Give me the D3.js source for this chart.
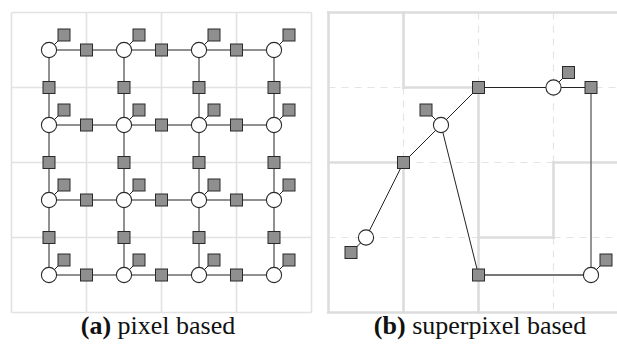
<!DOCTYPE html>
<html><head><meta charset="utf-8">
<script src="https://cdn.jsdelivr.net/npm/d3@7"></script>
<style>html,body{margin:0;padding:0;background:#fff;}svg{display:block;}</style>
</head><body>
<script>
// ---- data (grid units) ----
const gridCells = 4;                       // panel (a): 4 x 4 pixel grid
const captionA = ["(a)", " pixel based"];
const captionB = ["(b)", " superpixel based"];
// panel (b) superpixel boundaries: [x1,y1,x2,y2]
const solidBounds = [[1,0,1,1],[1,1,2,1],[2,1,2,4],[0,2,1,2],[1,2,1,4],[3,2,4,2],[3,2,3,3],[2,3,3,3]];
const dashedBounds = [[0,1,1,1],[2,1,4,1],[1,1,1,2],[1,2,3,2],[0,3,2,3],[3,3,4,3],[3,0,3,2],[3,3,3,4],[2,0,2,1]];
const frameB = [[0,0,0,4],[0,0,4,0],[0,4,4,4]];
// panel (b) nodes
const spNodes = [{id:"c1",x:1.5,y:1.5,d:"nw"},{id:"c2",x:3,y:1,d:"ne"},{id:"c3",x:3.5,y:3.5,d:"ne"},{id:"c4",x:0.5,y:3,d:"sw"}];
const edgeNodes = [{id:"s1",x:1,y:2},{id:"s2",x:2,y:1},{id:"s3",x:3.5,y:1},{id:"s4",x:2,y:3.5}];
const spLinks = [["c4","s1","n"],["s1","c1","n"],["c1","s2","n"],["s2","c2","n"],["c2","s3","n"],["s3","c3","g"],["c3","s4","m"],["s4","c1","n"]];

const W=617,H=348;
const svg=d3.select("body").append("svg").attr("width",W).attr("height",H);
const SQ=12, R=7.6, OFF=15;
const sqFill="#8f8f8f", sqStroke="#2a2a2a", lnCol="#222";
const dirs={ne:[1,-1],nw:[-1,-1],se:[1,1],sw:[-1,1]};

function square(g,x,y){
  g.append("rect").attr("x",x-SQ/2).attr("y",y-SQ/2).attr("width",SQ).attr("height",SQ)
   .attr("fill",sqFill).attr("stroke",sqStroke).attr("stroke-width",1);
}
function circle(g,x,y){
  g.append("circle").attr("cx",x).attr("cy",y).attr("r",R).attr("fill","#fff").attr("stroke","#2a2a2a").attr("stroke-width",1.1);
}
function diag(g,x,y,d){
  const v=dirs[d];
  g.append("line").attr("x1",x).attr("y1",y).attr("x2",x+v[0]*OFF).attr("y2",y+v[1]*OFF).attr("stroke",lnCol).attr("stroke-width",1);
  square(g,x+v[0]*OFF,y+v[1]*OFF);
}

// ---- panel (a) ----
const xA=d3.scaleLinear().domain([0,gridCells]).range([11.5,311.5]);
const yA=d3.scaleLinear().domain([0,gridCells]).range([12.5,312.5]);
const gA=svg.append("g");
const idx=d3.range(gridCells+1);
gA.selectAll(".v").data(idx).join("line").attr("x1",d=>xA(d)).attr("x2",d=>xA(d)).attr("y1",yA(0)).attr("y2",yA(gridCells)).attr("stroke","#e2e2e2").attr("stroke-width",1.6);
gA.selectAll(".h").data(idx).join("line").attr("y1",d=>yA(d)).attr("y2",d=>yA(d)).attr("x1",xA(0)).attr("x2",xA(gridCells)).attr("stroke","#e2e2e2").attr("stroke-width",1.6);
const cells=d3.range(gridCells);
cells.forEach(j=>{
  gA.append("line").attr("x1",xA(0.5)).attr("x2",xA(gridCells-0.5)).attr("y1",yA(j+0.5)).attr("y2",yA(j+0.5)).attr("stroke",lnCol).attr("stroke-width",1);
  gA.append("line").attr("y1",yA(0.5)).attr("y2",yA(gridCells-0.5)).attr("x1",xA(j+0.5)).attr("x2",xA(j+0.5)).attr("stroke",lnCol).attr("stroke-width",1);
});
cells.forEach(i=>cells.forEach(j=>{
  if(i<gridCells-1) square(gA,xA(i+1),yA(j+0.5));
  if(j<gridCells-1) square(gA,xA(i+0.5),yA(j+1));
}));
cells.forEach(i=>cells.forEach(j=>{
  const x=xA(i+0.5),y=yA(j+0.5);
  diag(gA,x,y,"ne");
  circle(gA,x,y);
}));

// ---- panel (b) ----
const xB=d3.scaleLinear().domain([0,4]).range([328.5,628.5]);
const yB=d3.scaleLinear().domain([0,4]).range([12.5,312.5]);
const gB=svg.append("g");
gB.selectAll(".d").data(dashedBounds).join("line")
  .attr("x1",d=>xB(d[0])).attr("y1",d=>yB(d[1])).attr("x2",d=>xB(d[2])).attr("y2",d=>yB(d[3]))
  .attr("stroke","#e4e4e4").attr("stroke-width",1.2).attr("stroke-dasharray","7,6");
gB.selectAll(".s").data(solidBounds.concat(frameB)).join("line")
  .attr("x1",d=>xB(d[0])).attr("y1",d=>yB(d[1])).attr("x2",d=>xB(d[2])).attr("y2",d=>yB(d[3]))
  .attr("stroke","#dcdcdc").attr("stroke-width",2.6).attr("stroke-linecap","square");
const all={};
spNodes.forEach(n=>all[n.id]=n); edgeNodes.forEach(n=>all[n.id]=n);
spLinks.forEach(l=>{
  const a=all[l[0]],b=all[l[1]];
  gB.append("line").attr("x1",xB(a.x)).attr("y1",yB(a.y)).attr("x2",xB(b.x)).attr("y2",yB(b.y))
    .attr("stroke",l[2]==="g"?"#7a7a7a":(l[2]==="m"?"#4a4a4a":lnCol)).attr("stroke-width",l[2]==="n"?1:1.6);
});
edgeNodes.forEach(n=>square(gB,xB(n.x),yB(n.y)));
spNodes.forEach(n=>{diag(gB,xB(n.x),yB(n.y),n.d);circle(gB,xB(n.x),yB(n.y));});

// ---- captions ----
function caption(x,parts){
  const t=svg.append("text").attr("x",x).attr("y",334).attr("text-anchor","middle")
    .attr("font-family","'Liberation Serif','Times New Roman',serif").attr("font-size",26).attr("fill","#111");
  t.append("tspan").attr("font-weight","bold").text(parts[0]);
  t.append("tspan").text(parts[1]);
}
caption(158,captionA);
caption(480,captionB);
</script>
</body></html>
